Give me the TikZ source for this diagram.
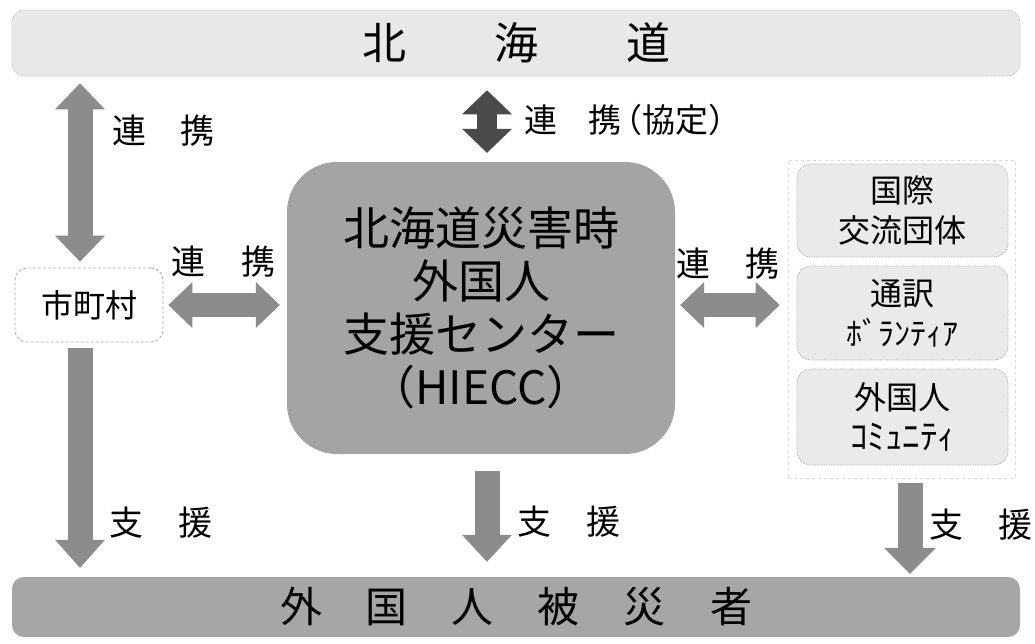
\documentclass[tikz,border=0pt]{standalone}
\usepackage{fontspec}
\setmainfont{Noto Sans CJK JP}
\usetikzlibrary{arrows.meta,calc}
\definecolor{bandlight}{HTML}{E8E8E8}
\definecolor{banddark}{HTML}{A6A6A6}
\definecolor{hubgray}{HTML}{A4A4A4}
\definecolor{boxlight}{HTML}{EAEAEA}
\definecolor{arrowgray}{HTML}{8C8C8C}
\definecolor{arrowdark}{HTML}{4A4A4A}
\definecolor{edgegray}{HTML}{ABABAB}
\begin{document}
\begin{tikzpicture}[x=1pt,y=-1pt,
  band/.style={rectangle, rounded corners=12pt, inner sep=0pt, minimum width=1008pt},
  hubbox/.style={rectangle, rounded corners=50pt, inner sep=0pt, fill=hubgray, align=center,
    font=\fontsize{46}{53}\selectfont},
  orgbox/.style={rectangle, rounded corners=14pt, inner sep=0pt, fill=boxlight,
    draw=edgegray, densely dotted, line width=0.8pt, minimum width=211pt, align=center,
    font=\fontsize{32}{40}\selectfont},
  lbl/.style={inner sep=0pt, font=\fontsize{34}{34}\selectfont},
  bigarrow/.style={draw=arrowgray, line width=25pt},
]
\useasboundingbox (0,0) rectangle (1035,643);

% top band
\node[band, fill=bandlight, draw=edgegray, densely dotted, line width=0.6pt, minimum height=66pt,
  font=\fontsize{44}{44}\selectfont] (top) at (516,43) {北\hspace{88pt}海\hspace{88pt}道};
% bottom band
\node[band, fill=banddark, minimum height=60pt,
  font=\fontsize{42}{42}\selectfont] (bot) at (516,607) {外\hspace{44pt}国\hspace{44pt}人\hspace{44pt}被\hspace{44pt}災\hspace{44pt}者};

% hub
\node[hubbox, minimum width=388pt, minimum height=292pt] (hub) at (481,308)
  {北海道災害時\\外国人\\支援センター\\（HIECC）};

% municipalities
\node[rectangle, rounded corners=12pt, inner sep=0pt, fill=white, draw=edgegray, densely dashed,
  line width=0.8pt, minimum width=148pt, minimum height=74pt,
  font=\fontsize{32}{32}\selectfont] (muni) at (89,305) {市町村};

% group outline (faint)
\node[rectangle, inner sep=0pt, draw=black!15, dashed, line width=0.6pt,
  minimum width=227pt, minimum height=318pt] (grp) at (901.5,319) {};

% organisations
\node[orgbox, minimum height=93pt] (intl) at (902.5,210.5) {国際\\交流団体};
\node[orgbox, minimum height=94pt] (interp) at (902.5,313) {通訳\\ﾎﾞﾗﾝﾃｨｱ};
\node[orgbox, minimum height=96pt] (comm) at (902.5,417) {外国人\\{\fontsize{35}{40}\selectfont ｺﾐｭﾆﾃｨ}};

% axis coordinates
\coordinate (L) at (80,0);
\coordinate (C) at (487,0);
\coordinate (R) at (910,0);

% arrows
\draw[bigarrow, {Triangle[width=50pt, length=26pt, line width=0pt]}-{Triangle[width=50pt, length=26pt, line width=0pt]},
  shorten <=7pt, shorten >=6pt] (top.south -| L) -- (muni.north -| L);
\draw[bigarrow, -{Triangle[width=50pt, length=28pt, line width=0pt]}, shorten <=6pt, shorten >=9pt]
  (muni.south -| L) -- (bot.north -| L);
\draw[bigarrow, line width=24pt, {Triangle[width=46pt, length=24pt, line width=0pt]}-{Triangle[width=46pt, length=24pt, line width=0pt]},
  shorten <=5pt, shorten >=7pt] (muni.east) -- (muni.east -| hub.west);
\draw[bigarrow, line width=24pt, {Triangle[width=46pt, length=24pt, line width=0pt]}-{Triangle[width=46pt, length=24pt, line width=0pt]},
  shorten <=5pt, shorten >=8pt] (muni.east -| hub.east) -- (muni.east -| grp.west);
\draw[bigarrow, draw=arrowdark, line width=20pt, {Triangle[width=50pt, length=24pt, line width=0pt]}-{Triangle[width=50pt, length=24pt, line width=0pt]},
  shorten <=14pt, shorten >=9pt] (top.south -| C) -- (hub.north -| C);
\draw[bigarrow, -{Triangle[width=50pt, length=27pt, line width=0pt]}, shorten <=17pt, shorten >=15pt]
  (hub.south -| C) -- (bot.north -| C);
\draw[bigarrow, -{Triangle[width=52pt, length=26pt, line width=0pt]}, shorten <=18pt, shorten >=3pt]
  (comm.south -| R) -- (bot.north -| R);

% labels
\node[lbl] (l1) at (163,131) {連\hspace{34pt}携};
\node[lbl] (l2) at (223.5,262) {連\hspace{36pt}携};
\node[lbl] (l3) at (728,264) {連\hspace{36pt}携};
\node[lbl, anchor=west, font=\fontsize{33}{33}\selectfont] (l4) at (524,120) {連\hspace{31pt}携\kern-12pt（協定）};
\node[lbl] (s1) at (161,523) {支\hspace{36pt}援};
\node[lbl] (s2) at (569,522) {支\hspace{36pt}援};
\node[lbl] (s3) at (981,525) {支\hspace{36pt}援};
\end{tikzpicture}
\end{document}
